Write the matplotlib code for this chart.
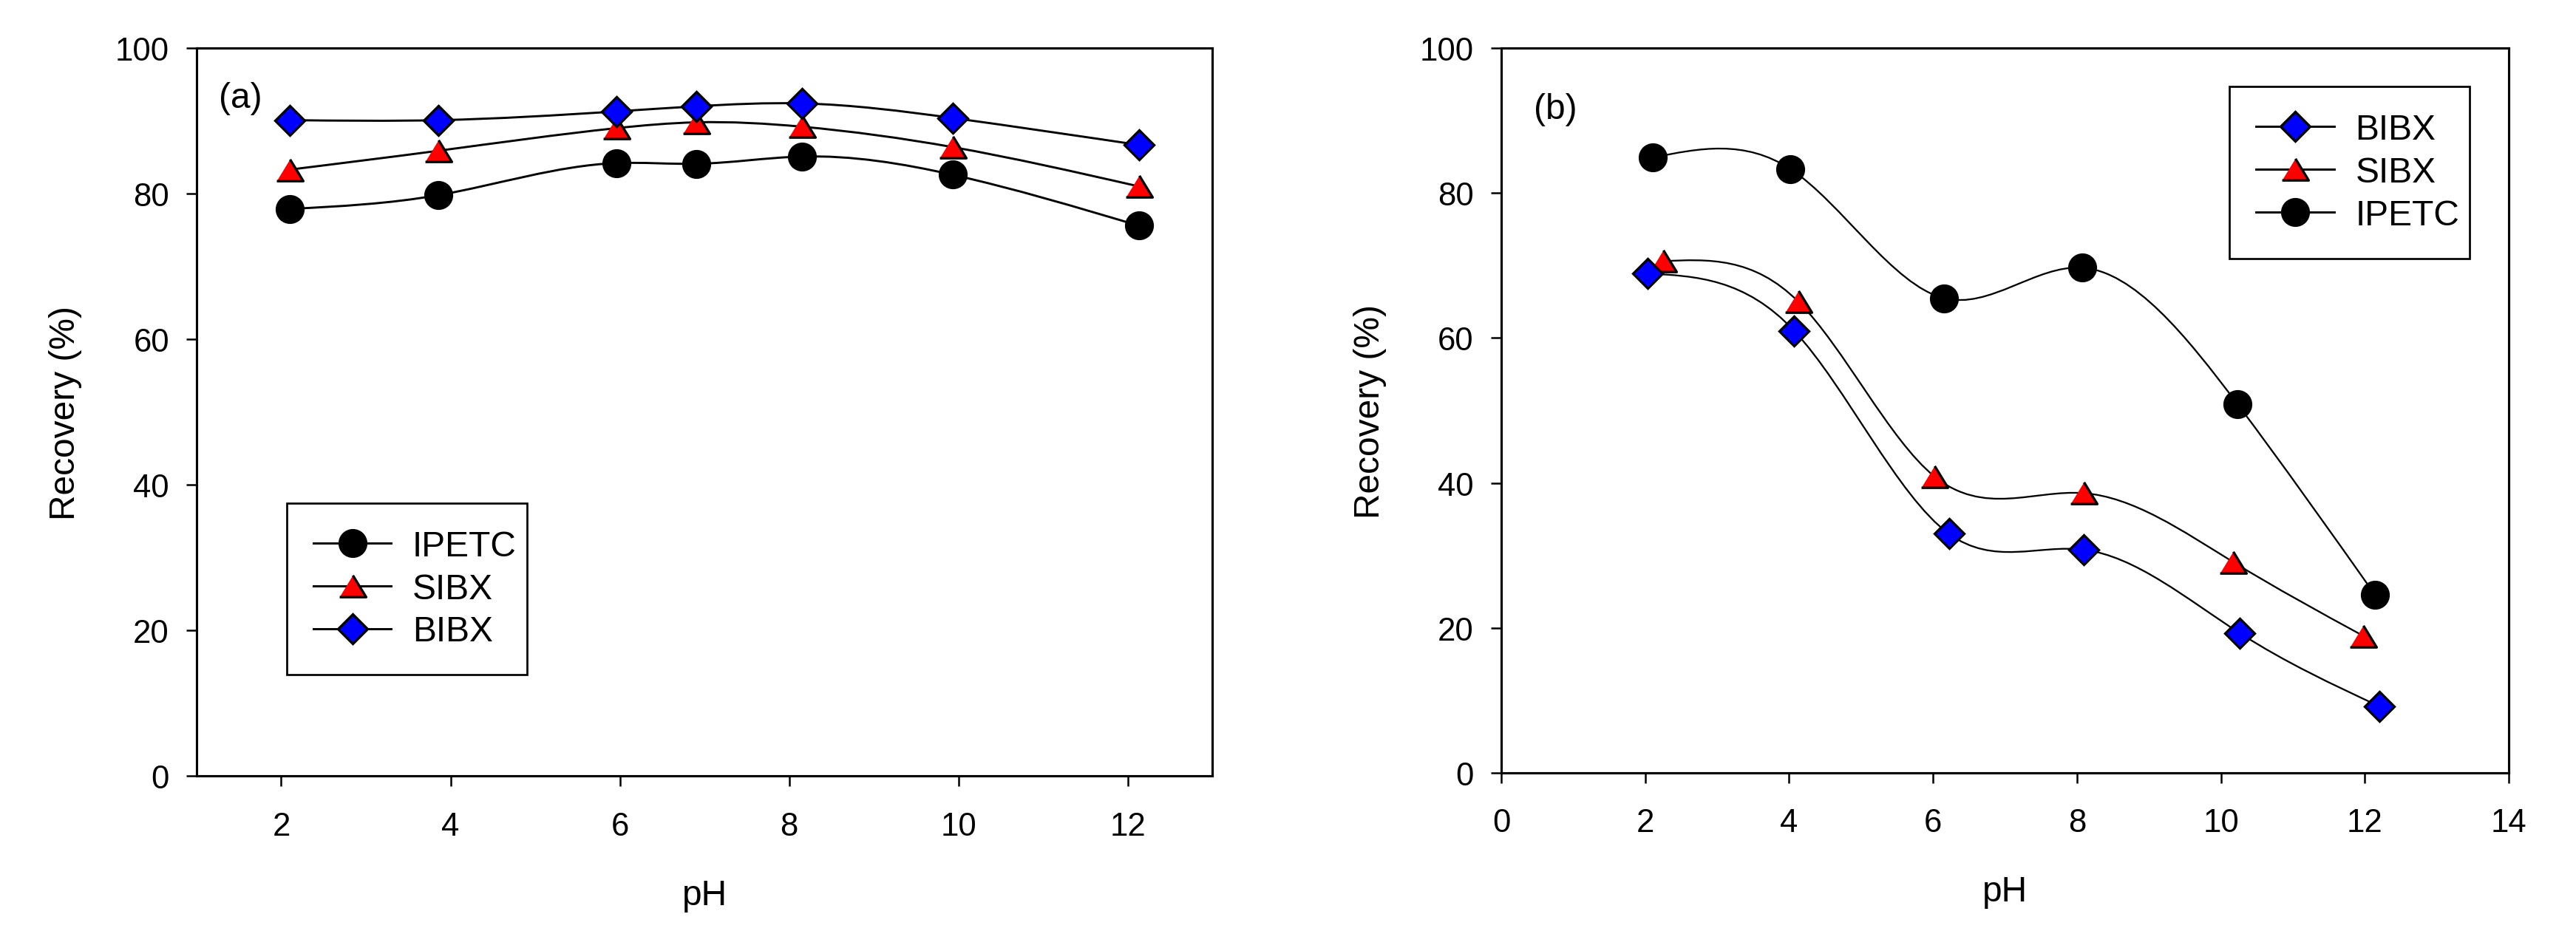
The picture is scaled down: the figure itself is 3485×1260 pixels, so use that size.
import numpy as np
import matplotlib
matplotlib.use('Agg')
import matplotlib.pyplot as plt
from matplotlib.path import Path
from matplotlib.patches import PathPatch
from matplotlib.lines import Line2D

plt.rcParams['font.family'] = ['Liberation Sans', 'DejaVu Sans']

# panel (a)
ph_a = [2.1, 3.86, 5.96, 6.9, 8.15, 9.93, 12.13]
ipetc_a = [77.9, 79.8, 84.2, 84.1, 85.1, 82.6, 75.6]
sibx_a = [83.3, 85.9, 89.0, 89.8, 89.2, 86.4, 81.0]
bibx_a = [90.1, 90.1, 91.3, 92.0, 92.4, 90.4, 86.7]

# panel (b)
ph_b_ipetc = [2.11, 4.02, 6.15, 8.07, 10.23, 12.14]
ipetc_b = [84.9, 83.3, 65.5, 69.7, 50.9, 24.6]
ph_b_sibx = [2.25, 4.13, 6.02, 8.09, 10.17, 11.98]
sibx_b = [70.6, 65.0, 40.9, 38.6, 29.1, 18.9]
ph_b_bibx = [2.03, 4.07, 6.22, 8.09, 10.26, 12.2]
bibx_b = [68.9, 61.0, 33.0, 30.8, 19.3, 9.2]

TRI = [(-1, -0.82), (1, -0.82), (0, 0.82)]
styles = {
    'IPETC': dict(marker='o', mfc='black', ms=8.6),
    'SIBX': dict(marker=TRI, mfc='red', ms=8.6),
    'BIBX': dict(marker='D', mfc='blue', ms=6.9),
}


def spline_path(x, y):
    # natural cubic spline drawn as bezier segments
    x = np.asarray(x, float)
    y = np.asarray(y, float)
    n = len(x)
    h = np.diff(x)
    A = np.zeros((n, n))
    r = np.zeros(n)
    A[0, 0] = 1
    A[-1, -1] = 1
    for i in range(1, n - 1):
        A[i, i - 1] = h[i - 1]
        A[i, i] = 2 * (h[i - 1] + h[i])
        A[i, i + 1] = h[i]
        r[i] = 6 * ((y[i + 1] - y[i]) / h[i] - (y[i] - y[i - 1]) / h[i - 1])
    M = np.linalg.solve(A, r)
    m = np.zeros(n)
    for i in range(n - 1):
        m[i] = (y[i + 1] - y[i]) / h[i] - h[i] * (2 * M[i] + M[i + 1]) / 6
    m[-1] = (y[-1] - y[-2]) / h[-1] + h[-1] * (M[-2] + 2 * M[-1]) / 6
    verts = [(x[0], y[0])]
    codes = [Path.MOVETO]
    for i in range(n - 1):
        d = h[i] / 3
        verts += [(x[i] + d, y[i] + d * m[i]),
                  (x[i + 1] - d, y[i + 1] - d * m[i + 1]),
                  (x[i + 1], y[i + 1])]
        codes += [Path.CURVE4] * 3
    return Path(verts, codes)


def draw_series(ax, x, y, name, lw):
    ax.add_patch(PathPatch(spline_path(x, y), fill=False, edgecolor='black', lw=lw, zorder=2))
    ax.plot(x, y, ls='none', mec='black', mew=0.8, zorder=3, **styles[name])


def handle(name, lw):
    return Line2D([], [], color='black', lw=lw, mec='black', mew=0.8, **styles[name])


def style_axes(ax, xticks):
    ax.set_ylim(0, 100)
    ax.set_yticks([0, 20, 40, 60, 80, 100])
    ax.set_xticks(xticks)
    for s in ax.spines.values():
        s.set_linewidth(0.75)
    ax.tick_params(direction='out', length=3.4, width=0.6, labelsize=10.5)
    ax.tick_params(axis='x', pad=8)
    ax.tick_params(axis='y', pad=5.5)
    ax.set_xlabel('pH', fontsize=11.5)
    ax.set_ylabel('Recovery (%)', fontsize=11.5)
    ax.xaxis.set_label_coords(0.5, -0.141)


def add_legend(ax, names, box):
    leg = ax.legend([handle(n, 0.7) for n in names], names, loc='upper left',
                    bbox_to_anchor=box, mode='expand',
                    fontsize=11.5, handlelength=2.2, handletextpad=0.6,
                    labelspacing=0.27, borderpad=0.75, fancybox=False,
                    edgecolor='black', framealpha=1, borderaxespad=0)
    leg.get_frame().set_linewidth(0.65)
    return leg


fig = plt.figure(figsize=(11.62, 4.2033), dpi=300)
ax1 = fig.add_axes([0.0763, 0.1665, 0.3942, 0.7811])
ax2 = fig.add_axes([0.5826, 0.1697, 0.3910, 0.7779])

# (a)
draw_series(ax1, ph_a, ipetc_a, 'IPETC', 0.7)
draw_series(ax1, ph_a, sibx_a, 'SIBX', 0.7)
draw_series(ax1, ph_a, bibx_a, 'BIBX', 0.7)
ax1.set_xlim(1, 13)
style_axes(ax1, [2, 4, 6, 8, 10, 12])
ax1.yaxis.set_label_coords(-0.113, 0.5)
ax1.text(0.022, 0.932, '(a)', transform=ax1.transAxes, fontsize=11.5, va='center', ha='left')
add_legend(ax1, ['IPETC', 'SIBX', 'BIBX'], (0.0888, 0.148, 0.2365, 0.227))

# (b)
draw_series(ax2, ph_b_ipetc, ipetc_b, 'IPETC', 0.55)
draw_series(ax2, ph_b_sibx, sibx_b, 'SIBX', 0.55)
draw_series(ax2, ph_b_bibx, bibx_b, 'BIBX', 0.55)
ax2.set_xlim(0, 14)
style_axes(ax2, [0, 2, 4, 6, 8, 10, 12, 14])
ax2.yaxis.set_label_coords(-0.114, 0.5)
ax2.text(0.032, 0.916, '(b)', transform=ax2.transAxes, fontsize=11.5, va='center', ha='left')
add_legend(ax2, ['BIBX', 'SIBX', 'IPETC'], (0.723, 0.720, 0.238, 0.227))

fig.savefig('out.png', dpi=300)
